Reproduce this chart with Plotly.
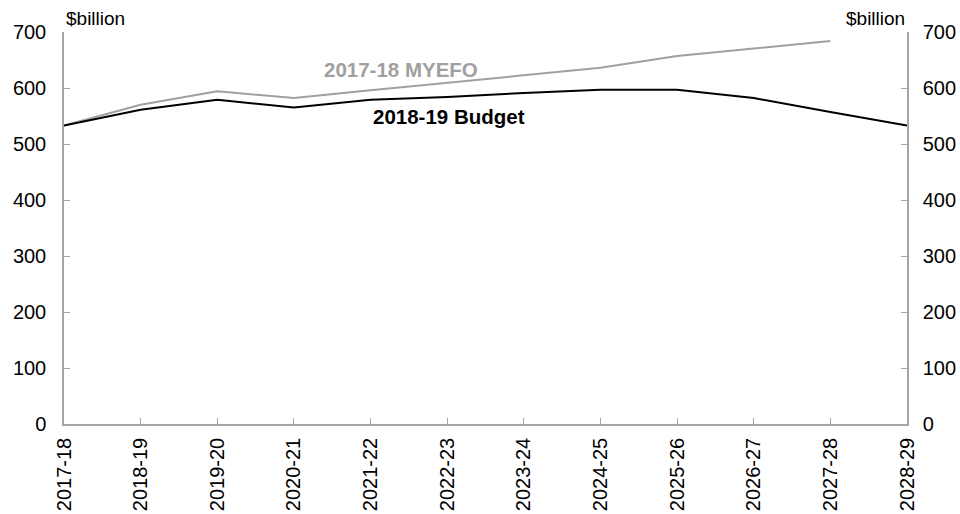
import plotly.graph_objects as go

years = ["2017-18", "2018-19", "2019-20", "2020-21", "2021-22", "2022-23",
         "2023-24", "2024-25", "2025-26", "2026-27", "2027-28", "2028-29"]
budget = [533, 561, 579, 565, 579, 584, 591, 597, 597, 582, 557, 533]
myefo = [533, 570, 594, 582, 596, 609, 623, 636, 657, 671, 684, None]

xi = list(range(len(years)))
axis_col = "#A6A6A6"
font = "Liberation Sans, Arial, sans-serif"

fig = go.Figure()
fig.add_trace(go.Scatter(x=xi, y=myefo, mode="lines", line=dict(color="#A0A0A0", width=2),
                         showlegend=False, hoverinfo="skip"))
fig.add_trace(go.Scatter(x=xi, y=budget, mode="lines", line=dict(color="#000000", width=2),
                         showlegend=False, hoverinfo="skip"))
# invisible trace for right axis
fig.add_trace(go.Scatter(x=[xi[0]], y=[None], yaxis="y2", showlegend=False, hoverinfo="skip"))

fig.update_layout(
    width=960, height=514,
    margin=dict(l=64, r=53, t=32, b=90),
    paper_bgcolor="white", plot_bgcolor="white",
    font=dict(family=font, size=20, color="black"),
    xaxis=dict(
        range=[0, 11], tickmode="array", tickvals=xi, ticktext=years,
        tickangle=-90, ticks="inside", ticklen=6, tickcolor=axis_col,
        showline=True, linecolor=axis_col, linewidth=1.5, showgrid=False,
        zeroline=False, tickfont=dict(size=20), ticklabelstandoff=4,
        automargin=False,
    ),
    yaxis=dict(
        range=[0, 700], tickvals=[0, 100, 200, 300, 400, 500, 600, 700],
        ticks="inside", ticklen=6, tickcolor=axis_col,
        showline=True, linecolor=axis_col, linewidth=1.5, showgrid=False,
        zeroline=False, tickfont=dict(size=20), ticklabelstandoff=12,
        automargin=False,
    ),
    yaxis2=dict(
        range=[0, 700], tickvals=[0, 100, 200, 300, 400, 500, 600, 700],
        overlaying="y", side="right", ticks="inside", ticklen=6, tickcolor=axis_col,
        showline=True, linecolor=axis_col, linewidth=1.5, showgrid=False,
        zeroline=False, tickfont=dict(size=20), ticklabelstandoff=10,
        automargin=False,
    ),
    annotations=[
        dict(text="$billion", xref="paper", yref="paper", x=0, y=1, xanchor="left",
             yanchor="bottom", yshift=1, showarrow=False, font=dict(size=19)),
        dict(text="$billion", xref="paper", yref="paper", x=1, y=1, xanchor="right",
             yanchor="bottom", yshift=1, showarrow=False, font=dict(size=19)),
        dict(text="<b>2017-18 MYEFO</b>", xref="x", yref="y", x=4.40, y=633,
             xanchor="center", yanchor="middle", showarrow=False,
             font=dict(size=20.5, color="#A0A0A0")),
        dict(text="<b>2018-19 Budget</b>", xref="x", yref="y", x=5.02, y=550,
             xanchor="center", yanchor="middle", showarrow=False,
             font=dict(size=20.5, color="black")),
    ],
)

fig.write_html("out.html")
